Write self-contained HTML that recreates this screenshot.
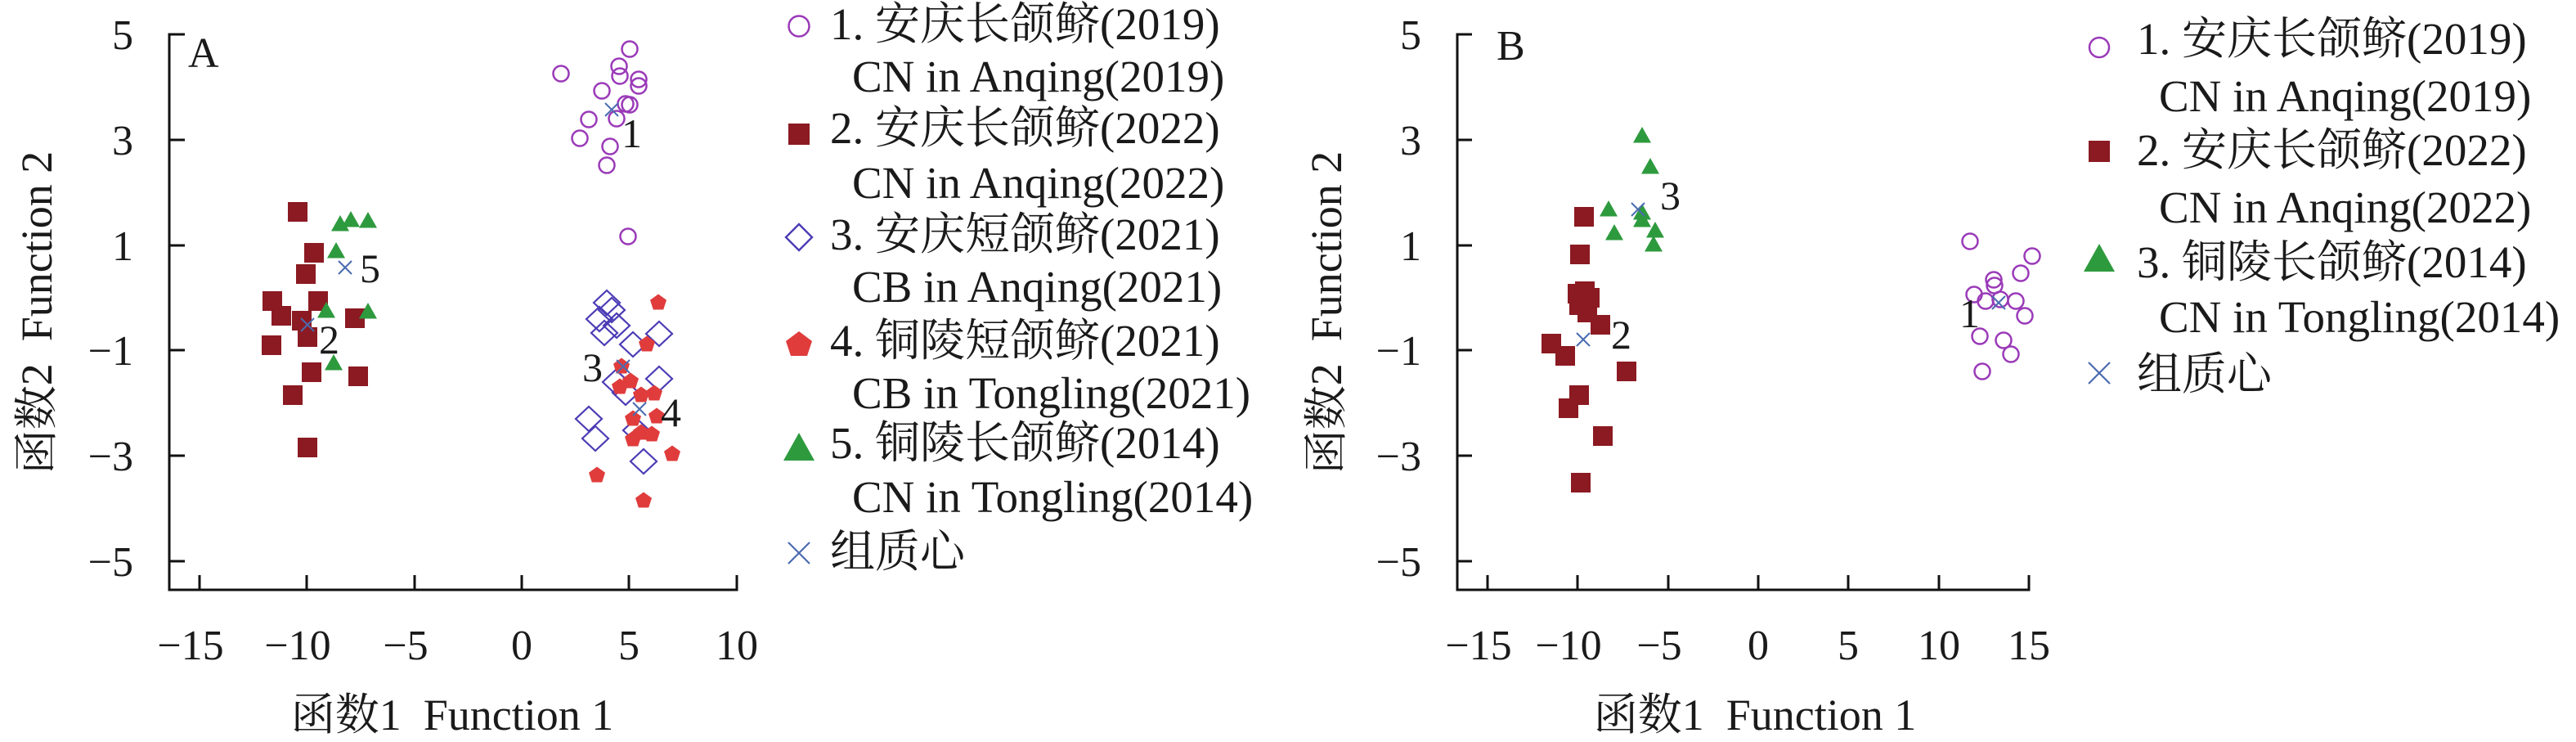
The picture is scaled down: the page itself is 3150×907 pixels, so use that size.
<!DOCTYPE html>
<html><head><meta charset="utf-8"><style>
html,body{margin:0;padding:0;background:#fff;}
svg{display:block;}
text{font-family:"Liberation Serif","Noto Serif CJK SC","Noto Sans CJK SC",serif;fill:#1a1a1a;}
</style></head><body>
<svg width="3150" height="907" viewBox="0 0 3150 907" xmlns="http://www.w3.org/2000/svg">
<defs>
<circle id="c" r="9.5" fill="none" stroke="#9a3ab8" stroke-width="2.5"/>
<rect id="s" x="-12" y="-12" width="24" height="24" fill="#8b1a22"/>
<polygon id="t" points="0,-11 11,8.5 -11,8.5" fill="#2e9a3e"/>
<polygon id="d" points="0,-15 16,0 0,15 -16,0" fill="none" stroke="#4b3cb5" stroke-width="2.2"/>
<polygon id="p" points="0,-10.5 10,-3.2 6.2,8.5 -6.2,8.5 -10,-3.2" fill="#e03c3c"/>
<g id="x" stroke="#4a6bb0" stroke-width="2"><line x1="-8" y1="-8" x2="8" y2="8"/><line x1="-8" y1="8" x2="8" y2="-8"/></g>
</defs>

<!-- ===== Panel A ===== -->
<g stroke="#111" stroke-width="3" fill="none">
<polyline points="226,42 207,42 207,721 901,721 901,703"/>
<line x1="207" y1="171" x2="226" y2="171"/>
<line x1="207" y1="300" x2="226" y2="300"/>
<line x1="207" y1="428" x2="226" y2="428"/>
<line x1="207" y1="557" x2="226" y2="557"/>
<line x1="207" y1="686" x2="226" y2="686"/>
<line x1="244" y1="721" x2="244" y2="703"/>
<line x1="375" y1="721" x2="375" y2="703"/>
<line x1="507" y1="721" x2="507" y2="703"/>
<line x1="638" y1="721" x2="638" y2="703"/>
<line x1="769" y1="721" x2="769" y2="703"/>
</g>
<g font-size="52" text-anchor="end">
<text x="163" y="60">5</text>
<text x="163" y="189">3</text>
<text x="163" y="318">1</text>
<text x="163" y="446">−1</text>
<text x="163" y="575">−3</text>
<text x="163" y="704">−5</text>
</g>
<g font-size="52" text-anchor="middle">
<text x="233" y="806">−15</text>
<text x="364" y="806">−10</text>
<text x="496" y="806">−5</text>
<text x="638" y="806">0</text>
<text x="769" y="806">5</text>
<text x="901" y="806">10</text>
</g>
<text x="553" y="892" font-size="54" text-anchor="middle">函数1&#160;&#160;Function 1</text>
<text transform="translate(63,382) rotate(-90)" font-size="54" text-anchor="middle">函数2&#160;&#160;Function 2</text>
<text x="230" y="82" font-size="52">A</text>

<use href="#c" x="686" y="90"/><use href="#c" x="770" y="60"/><use href="#c" x="757" y="81"/>
<use href="#c" x="758" y="93"/><use href="#c" x="781" y="97"/><use href="#c" x="781" y="105"/>
<use href="#c" x="736" y="111"/><use href="#c" x="765" y="127"/><use href="#c" x="770" y="128"/>
<use href="#c" x="754" y="145"/><use href="#c" x="720" y="146"/><use href="#c" x="709" y="169"/>
<use href="#c" x="746" y="179"/><use href="#c" x="742" y="202"/><use href="#c" x="768" y="289"/>
<use href="#s" x="364" y="259"/><use href="#s" x="384" y="309"/><use href="#s" x="374" y="335"/>
<use href="#s" x="333" y="368"/><use href="#s" x="389" y="368"/><use href="#s" x="344" y="386"/>
<use href="#s" x="369" y="392"/><use href="#s" x="434" y="389"/><use href="#s" x="376" y="412"/>
<use href="#s" x="332" y="422"/><use href="#s" x="381" y="455"/><use href="#s" x="438" y="460"/>
<use href="#s" x="358" y="483"/><use href="#s" x="376" y="547"/>
<use href="#t" x="416" y="274"/><use href="#t" x="429" y="269"/><use href="#t" x="450" y="270"/>
<use href="#t" x="411" y="307"/><use href="#t" x="399" y="380"/><use href="#t" x="450" y="381"/>
<use href="#t" x="408" y="444"/>
<use href="#d" x="742" y="370"/><use href="#d" x="748" y="379"/><use href="#d" x="733" y="390"/>
<use href="#d" x="754" y="398"/><use href="#d" x="739" y="407"/><use href="#d" x="774" y="421"/>
<use href="#d" x="806" y="408"/><use href="#d" x="765" y="480"/><use href="#d" x="753" y="467"/>
<use href="#d" x="806" y="463"/><use href="#d" x="720" y="512"/><use href="#d" x="728" y="536"/>
<use href="#d" x="787" y="564"/><use href="#d" x="778" y="526"/>
<use href="#p" x="805" y="370"/><use href="#p" x="791" y="421"/><use href="#p" x="760" y="448"/>
<use href="#p" x="771" y="466"/><use href="#p" x="758" y="473"/><use href="#p" x="784" y="483"/>
<use href="#p" x="800" y="481"/><use href="#p" x="774" y="512"/><use href="#p" x="803" y="509"/>
<use href="#p" x="774" y="537"/><use href="#p" x="797" y="531"/><use href="#p" x="822" y="555"/>
<use href="#p" x="730" y="581"/><use href="#p" x="787" y="612"/><use href="#p" x="784" y="529"/>
<use href="#x" x="748" y="134"/><use href="#x" x="422" y="327"/><use href="#x" x="376" y="397"/>
<use href="#x" x="762" y="448"/><use href="#x" x="782" y="500"/>
<g font-size="50">
<text x="760" y="180">1</text>
<text x="440" y="345">5</text>
<text x="390" y="432">2</text>
<text x="712" y="466">3</text>
<text x="808" y="521">4</text>
</g>

<circle cx="977" cy="32" r="12.5" fill="none" stroke="#9a3ab8" stroke-width="2.5"/>
<rect x="964" y="151" width="26" height="26" fill="#8b1a22"/>
<polygon points="977,274 993,290 977,306 961,290" fill="none" stroke="#4b3cb5" stroke-width="2.4"/>
<polygon points="977,405 993,417 987,435 967,435 961,417" fill="#e03c3c"/>
<polygon points="977,529 996,563 958,563" fill="#2e9a3e"/>
<g stroke="#4a6bb0" stroke-width="2.2"><line x1="964" y1="663" x2="990" y2="689"/><line x1="964" y1="689" x2="990" y2="663"/></g>
<g font-size="55">
<text x="1015" y="48">1. 安庆长颌鲚(2019)</text>
<text x="1042" y="112">CN in Anqing(2019)</text>
<text x="1015" y="175">2. 安庆长颌鲚(2022)</text>
<text x="1042" y="242">CN in Anqing(2022)</text>
<text x="1015" y="305">3. 安庆短颌鲚(2021)</text>
<text x="1042" y="369">CB in Anqing(2021)</text>
<text x="1015" y="435">4. 铜陵短颌鲚(2021)</text>
<text x="1042" y="499">CB in Tongling(2021)</text>
<text x="1015" y="560">5. 铜陵长颌鲚(2014)</text>
<text x="1042" y="626">CN in Tongling(2014)</text>
<text x="1015" y="693">组质心</text>
</g>

<!-- ===== Panel B ===== -->
<g stroke="#111" stroke-width="3" fill="none">
<polyline points="1800,42 1782,42 1782,721 2481,721 2481,703"/>
<line x1="1782" y1="171" x2="1800" y2="171"/>
<line x1="1782" y1="300" x2="1800" y2="300"/>
<line x1="1782" y1="428" x2="1800" y2="428"/>
<line x1="1782" y1="557" x2="1800" y2="557"/>
<line x1="1782" y1="686" x2="1800" y2="686"/>
<line x1="1819" y1="721" x2="1819" y2="703"/>
<line x1="1929" y1="721" x2="1929" y2="703"/>
<line x1="2040" y1="721" x2="2040" y2="703"/>
<line x1="2150" y1="721" x2="2150" y2="703"/>
<line x1="2260" y1="721" x2="2260" y2="703"/>
<line x1="2371" y1="721" x2="2371" y2="703"/>
</g>
<g font-size="52" text-anchor="end">
<text x="1738" y="60">5</text>
<text x="1738" y="189">3</text>
<text x="1738" y="318">1</text>
<text x="1738" y="446">−1</text>
<text x="1738" y="575">−3</text>
<text x="1738" y="704">−5</text>
</g>
<g font-size="52" text-anchor="middle">
<text x="1808" y="806">−15</text>
<text x="1918" y="806">−10</text>
<text x="2029" y="806">−5</text>
<text x="2150" y="806">0</text>
<text x="2260" y="806">5</text>
<text x="2371" y="806">10</text>
<text x="2481" y="806">15</text>
</g>
<text x="2146" y="892" font-size="54" text-anchor="middle">函数1&#160;&#160;Function 1</text>
<text transform="translate(1640,382) rotate(-90)" font-size="54" text-anchor="middle">函数2&#160;&#160;Function 2</text>
<text x="1830" y="73" font-size="52">B</text>

<use href="#s" x="1937" y="265"/><use href="#s" x="1932" y="311"/><use href="#s" x="1929" y="359"/>
<use href="#s" x="1938" y="356"/><use href="#s" x="1944" y="364"/><use href="#s" x="1931" y="373"/>
<use href="#s" x="1941" y="382"/><use href="#s" x="1957" y="397"/><use href="#s" x="1897" y="420"/>
<use href="#s" x="1914" y="435"/><use href="#s" x="1989" y="454"/><use href="#s" x="1931" y="483"/>
<use href="#s" x="1918" y="499"/><use href="#s" x="1960" y="533"/><use href="#s" x="1933" y="590"/>
<use href="#t" x="2008" y="166"/><use href="#t" x="2018" y="204"/><use href="#t" x="1967" y="256"/>
<use href="#t" x="2008" y="260"/><use href="#t" x="2008" y="269"/><use href="#t" x="1974" y="285"/>
<use href="#t" x="2024" y="282"/><use href="#t" x="2022" y="299"/>
<use href="#c" x="2409" y="295"/><use href="#c" x="2485" y="313"/><use href="#c" x="2471" y="334"/>
<use href="#c" x="2438" y="342"/><use href="#c" x="2439" y="349"/><use href="#c" x="2414" y="360"/>
<use href="#c" x="2428" y="368"/><use href="#c" x="2446" y="366"/><use href="#c" x="2465" y="368"/>
<use href="#c" x="2476" y="386"/><use href="#c" x="2421" y="411"/><use href="#c" x="2450" y="416"/>
<use href="#c" x="2459" y="433"/><use href="#c" x="2424" y="454"/>
<use href="#x" x="2003" y="256"/><use href="#x" x="1936" y="415"/><use href="#x" x="2444" y="370"/>
<g font-size="50">
<text x="2030" y="256">3</text>
<text x="1970" y="426">2</text>
<text x="2396" y="400">1</text>
</g>

<circle cx="2567" cy="58" r="12" fill="none" stroke="#9a3ab8" stroke-width="2.5"/>
<rect x="2554" y="172" width="26" height="26" fill="#8b1a22"/>
<polygon points="2567,298 2586,332 2548,332" fill="#2e9a3e"/>
<g stroke="#4a6bb0" stroke-width="2.2"><line x1="2554" y1="443" x2="2580" y2="469"/><line x1="2554" y1="469" x2="2580" y2="443"/></g>
<g font-size="55">
<text x="2613" y="66">1. 安庆长颌鲚(2019)</text>
<text x="2640" y="136">CN in Anqing(2019)</text>
<text x="2613" y="202">2. 安庆长颌鲚(2022)</text>
<text x="2640" y="272">CN in Anqing(2022)</text>
<text x="2613" y="339">3. 铜陵长颌鲚(2014)</text>
<text x="2640" y="406">CN in Tongling(2014)</text>
<text x="2613" y="476">组质心</text>
</g>
</svg>
</body></html>
